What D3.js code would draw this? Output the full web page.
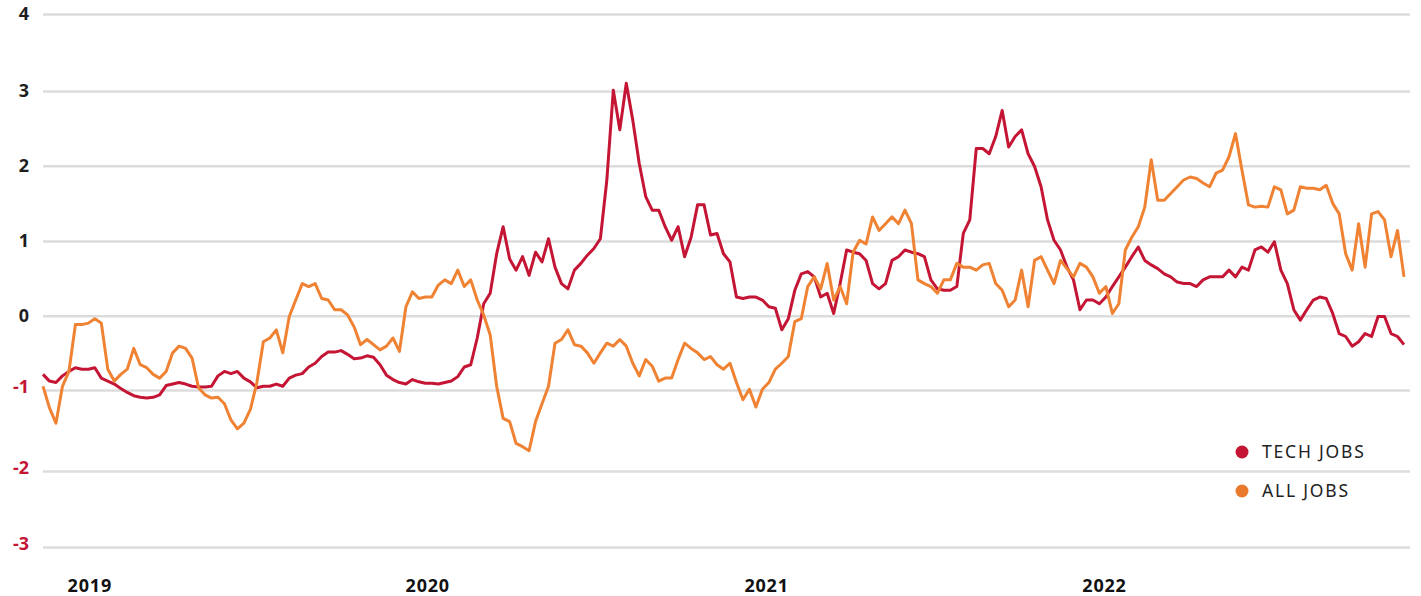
<!DOCTYPE html>
<html>
  <head>
    <meta charset="utf-8">
    <title>Tech jobs vs all jobs</title>
    <script src="https://d3js.org/d3.v7.min.js" charset="utf-8"></script>
    <style>
      body { margin: 0; background: #fff; }
      .tick text { font-family: "Noto Sans", Lato, sans-serif; font-weight: 700; }
    </style>
  </head>
  <body>
    <script>
      // weekly readings starting 2018-11-12
      var startDate = new Date(2018, 10, 12);

      var techJobs = [
        -0.79, -0.88, -0.90, -0.81, -0.75, -0.70, -0.72, -0.72, -0.70, -0.84,
        -0.88, -0.92, -0.98, -1.03, -1.07, -1.09, -1.10, -1.09, -1.06, -0.94,
        -0.92, -0.90, -0.92, -0.95, -0.96, -0.96, -0.95, -0.81, -0.75, -0.78,
        -0.75, -0.84, -0.89, -0.97, -0.95,
        -0.95, -0.92, -0.95, -0.84, -0.80, -0.78, -0.69, -0.64, -0.55, -0.49,
        -0.49, -0.47, -0.52, -0.58, -0.57, -0.54, -0.56, -0.66, -0.80, -0.86,
        -0.90, -0.92, -0.86, -0.89, -0.91, -0.91, -0.92, -0.90, -0.88, -0.82,
        -0.69, -0.66, -0.30, 0.16, 0.30,
        0.83, 1.19, 0.76, 0.61, 0.79, 0.54, 0.85, 0.72, 1.03, 0.65,
        0.43, 0.36, 0.61, 0.70, 0.81, 0.90, 1.03, 1.81, 3.01, 2.48,
        3.10, 2.61, 2.03, 1.59, 1.41, 1.41, 1.19, 1.01, 1.19, 0.79,
        1.05, 1.48, 1.48, 1.08, 1.10,
        0.83, 0.72, 0.25, 0.23, 0.25, 0.25, 0.21, 0.12, 0.10, -0.19,
        -0.04, 0.34, 0.56, 0.59, 0.52, 0.25, 0.30, 0.03, 0.43, 0.88,
        0.85, 0.83, 0.74, 0.43, 0.36, 0.43, 0.74, 0.79, 0.88, 0.85,
        0.83, 0.79, 0.48, 0.36, 0.34,
        0.34, 0.39, 1.10, 1.28, 2.23, 2.23, 2.16, 2.39, 2.74, 2.25,
        2.39, 2.48, 2.16, 1.99, 1.72, 1.28, 1.01, 0.88, 0.65, 0.48,
        0.08, 0.21, 0.21, 0.16, 0.25, 0.39, 0.52, 0.65, 0.79, 0.92,
        0.74, 0.68, 0.63, 0.56,
        0.52, 0.45, 0.43, 0.43, 0.39, 0.48, 0.52, 0.52, 0.52, 0.61,
        0.52, 0.65, 0.61, 0.88, 0.92, 0.85, 0.99, 0.61, 0.43, 0.08,
        -0.06, 0.08, 0.21, 0.25, 0.23, 0.03, -0.24, -0.28, -0.41, -0.35,
        -0.24, -0.28, -0.01, -0.01, -0.24, -0.28, -0.39
      ];

      var allJobs = [
        -0.95, -1.22, -1.41, -0.95, -0.75, -0.12, -0.12, -0.10, -0.04, -0.10,
        -0.72, -0.88, -0.79, -0.72, -0.44, -0.66, -0.70, -0.79, -0.84, -0.75,
        -0.50, -0.41, -0.44, -0.57, -0.97, -1.06, -1.10, -1.09, -1.17, -1.37,
        -1.48, -1.41, -1.24, -0.90, -0.35,
        -0.30, -0.19, -0.50, -0.01, 0.21, 0.43, 0.39, 0.43, 0.23, 0.21,
        0.08, 0.08, 0.01, -0.15, -0.39, -0.32, -0.39, -0.46, -0.41, -0.30,
        -0.48, 0.12, 0.32, 0.23, 0.25, 0.25, 0.41, 0.48, 0.43, 0.61,
        0.39, 0.48, 0.21, 0.01, -0.26,
        -0.95, -1.35, -1.39, -1.66, -1.70, -1.75, -1.39, -1.17, -0.95, -0.37,
        -0.32, -0.19, -0.39, -0.41, -0.50, -0.64, -0.50, -0.37, -0.41, -0.32,
        -0.41, -0.64, -0.81, -0.59, -0.68, -0.88, -0.84, -0.84, -0.59, -0.37,
        -0.44, -0.50, -0.59, -0.55, -0.66,
        -0.72, -0.64, -0.90, -1.12, -0.99, -1.21, -0.99, -0.90, -0.72, -0.64,
        -0.55, -0.08, -0.04, 0.39, 0.52, 0.36, 0.70, 0.21, 0.39, 0.16,
        0.85, 1.01, 0.96, 1.32, 1.14, 1.23, 1.32, 1.23, 1.41, 1.23,
        0.48, 0.43, 0.39, 0.30, 0.48,
        0.48, 0.70, 0.65, 0.65, 0.61, 0.68, 0.70, 0.43, 0.34, 0.12,
        0.21, 0.61, 0.12, 0.74, 0.79, 0.61, 0.43, 0.74, 0.63, 0.52,
        0.70, 0.65, 0.52, 0.30, 0.39, 0.03, 0.16, 0.88, 1.05, 1.19,
        1.45, 2.08, 1.54, 1.54,
        1.63, 1.72, 1.81, 1.85, 1.83, 1.77, 1.72, 1.90, 1.94, 2.12,
        2.43, 1.94, 1.48, 1.45, 1.46, 1.45, 1.72, 1.68, 1.36, 1.41,
        1.72, 1.70, 1.70, 1.68, 1.74, 1.50, 1.36, 0.83, 0.61, 1.23,
        0.65, 1.36, 1.39, 1.28, 0.79, 1.14, 0.52
      ];

      var yTicks = [-3, -2, -1, 0, 1, 2, 3, 4];
      var seriesNames = ["TECH JOBS", "ALL JOBS"];
      var lineColors = ["#c41535", "#ef8233"];
      var dotColors = ["#c41535", "#e8792d"];

      var width = 1421;
      var height = 596;

      var dates = techJobs.map(function(d, i) { return d3.timeWeek.offset(startDate, i); });

      var x = d3.scaleTime()
        .domain([dates[0], dates[dates.length - 1]])
        .range([43, 1404]);

      // gridlines in the original are not quite evenly spaced
      var y = d3.scaleLinear()
        .domain(yTicks)
        .range([547, 471, 390, 315.7, 241, 165.7, 91, 14]);

      var svg = d3.select("body")
        .append("svg")
        .attr("width", width)
        .attr("height", height);

      // gridlines and y labels
      var yAxis = svg.append("g")
        .attr("transform", "translate(43,0)")
        .call(d3.axisLeft(y).tickValues(yTicks).tickSize(-1367).tickPadding(14)
          .tickFormat(function(d) { return d < 0 ? "-" + Math.abs(d) : d; }));

      yAxis.select(".domain").remove();
      yAxis.selectAll(".tick line")
        .attr("stroke", "#dcdcdc")
        .attr("stroke-width", 2.5);
      yAxis.selectAll(".tick text")
        .attr("font-size", 18)
        .attr("dy", function(d) { return d < 0 ? "0.15em" : "0.32em"; })
        .attr("fill", function(d) { return d < 0 ? "#c41535" : "#1e1e1e"; });

      // year labels
      var xAxis = svg.append("g")
        .attr("transform", "translate(0,576)")
        .call(d3.axisBottom(x).ticks(d3.timeYear.every(1)).tickSize(0).tickFormat(d3.timeFormat("%Y")));

      xAxis.select(".domain").remove();
      xAxis.selectAll(".tick text")
        .attr("font-size", 18)
        .attr("letter-spacing", 0.8)
        .attr("fill", "#111");

      var line = d3.line()
        .x(function(d, i) { return x(dates[i]); })
        .y(function(d) { return y(d); });

      svg.append("path")
        .datum(techJobs)
        .attr("fill", "none")
        .attr("stroke", lineColors[0])
        .attr("stroke-width", 3)
        .attr("stroke-linejoin", "round")
        .attr("d", line);

      svg.append("path")
        .datum(allJobs)
        .attr("fill", "none")
        .attr("stroke", lineColors[1])
        .attr("stroke-width", 3)
        .attr("stroke-linejoin", "round")
        .attr("d", line);

      // legend
      var legend = svg.append("g")
        .attr("transform", "translate(1242,452)");

      var item = legend.selectAll("g")
        .data(seriesNames)
        .enter()
        .append("g")
        .attr("transform", function(d, i) { return "translate(0," + (i * 39) + ")"; });

      item.append("circle")
        .attr("r", 6.5)
        .attr("fill", function(d, i) { return dotColors[i]; });

      item.append("text")
        .attr("x", 20)
        .attr("dy", "0.36em")
        .attr("font-family", "'Noto Sans', Lato, sans-serif")
        .attr("font-size", 17.5)
        .attr("letter-spacing", 1.8)
        .attr("fill", "#222")
        .text(function(d) { return d; });
    </script>
  </body>
</html>
